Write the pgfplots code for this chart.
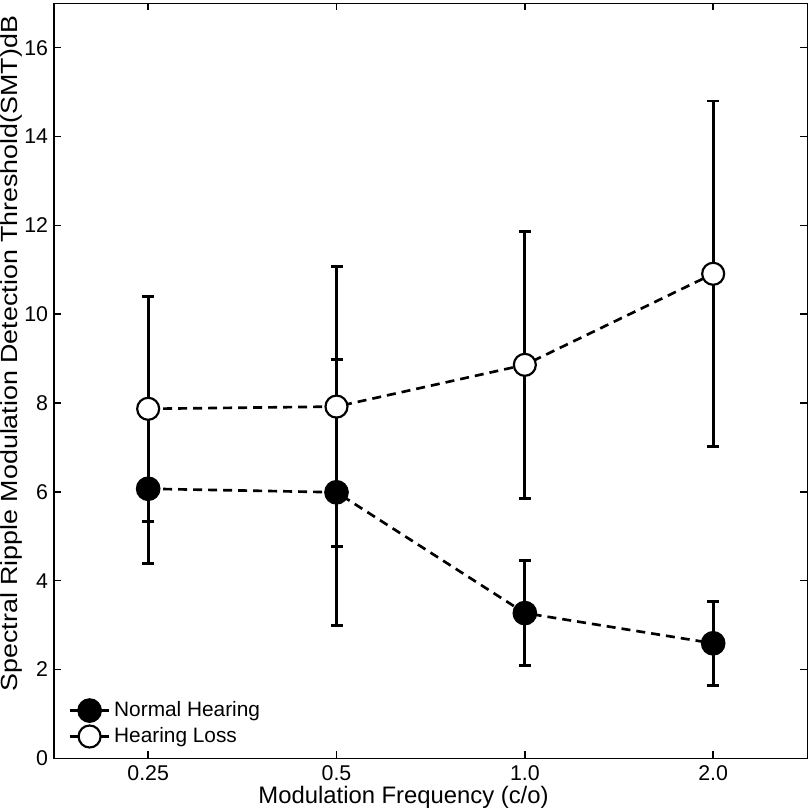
\documentclass[border=0pt]{standalone}
\usepackage{fontspec}
\setmainfont{Liberation Sans}
\usepackage{graphicx}
\usepackage{pgfplots}
\pgfplotsset{compat=1.18}
\begin{document}
\begin{tikzpicture}
\begin{axis}[
  scale only axis,
  width=452pt, height=453pt,
  xmin=0.5, xmax=4.5, ymin=0, ymax=17,
  xtick={1,2,3,4},
  xticklabels={0.25,0.5,1.0,2.0},
  ytick={0,2,4,6,8,10,12,14,16},
  tick align=inside,
  major tick length=4.2pt,
  tick style={black, line width=0.9pt},
  axis line style={line width=0.9pt},
  tick label style={font=\fontsize{12.8}{14}\selectfont},
  xticklabel style={inner sep=1pt, yshift=-3.3pt},
  /pgf/number format/assume math mode=true,
  xlabel={Modulation Frequency (c/o)},
  ylabel={\scalebox{1.15}[1.0]{Spectral Ripple Modulation Detection Threshold(SMT)dB}},
  xlabel style={at={(axis description cs:0.464,-0.052)}, anchor=center, inner sep=0pt, font=\fontsize{14.3}{16}\selectfont},
  ylabel style={at={(axis description cs:-0.0565,0.536)}, anchor=center, font=\fontsize{14}{16}\selectfont},
  legend style={draw=none, fill=none, at={(0.012,0.008)}, anchor=south west,
    font=\fontsize{12.5}{14}\selectfont, row sep=1pt},
  legend cell align=left,
  legend image code/.code={\draw[mark repeat=2,mark phase=2,#1] plot coordinates {(0cm,0cm) (0.42cm,0cm) (0.84cm,0cm)};},
]
\addplot[black, line width=1.6pt, dash pattern=on 5.4pt off 3.6pt,
  mark=*, mark size=6.6pt, mark options={solid, fill=black},
  error bars/.cd, y dir=both, y explicit,
  error bar style={line width=1.75pt, solid},
  error mark options={rotate=90, mark size=3.6pt, line width=1.75pt, solid}]
  coordinates {
  (1,6.07) +- (0,1.68)
  (2,5.99) +- (0,3.00)
  (3,3.27) +- (0,1.19)
  (4,2.59) +- (0,0.95)
};
\addlegendentry{Normal Hearing}
\addplot[black, line width=1.6pt, dash pattern=on 5.4pt off 3.6pt,
  mark=*, mark size=6.6pt, mark options={solid, fill=white, draw=black, line width=1.3pt},
  error bars/.cd, y dir=both, y explicit,
  error bar style={line width=1.75pt, solid},
  error mark options={rotate=90, mark size=3.6pt, line width=1.75pt, solid}]
  coordinates {
  (1,7.87) +- (0,2.53)
  (2,7.92) +- (0,3.16)
  (3,8.86) +- (0,3.00)
  (4,10.91) +- (0,3.89)
};
\addlegendentry{Hearing Loss}
\end{axis}
\pgfresetboundingbox
\path ([xshift=-32.4pt,yshift=-31pt]current axis.south west) rectangle ([xshift=1.2pt,yshift=2pt]current axis.north east);
\end{tikzpicture}
\end{document}
